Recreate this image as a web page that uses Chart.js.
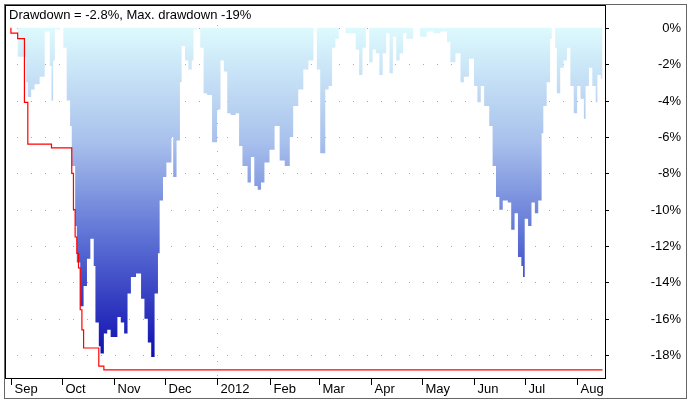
<!DOCTYPE html>
<html><head>
<script src="https://cdn.jsdelivr.net/npm/chart.js@4"></script>
<style>body{margin:0;background:#fff}#wrap{width:691px;height:403px}</style>
</head><body>
<div id="wrap"><canvas id="c"></canvas></div>
<script>
// days since 2011-09-01
let ddDays = [0,4,9,10,12,14,17,20,21,23,24,25,26,29,31,33,35,36,38,39,41,43,45,47,49,50,52,53,55,57,59,61,63,65,67,69,71,74,77,79,81,83,85,87,88,90,92,95,96,98,100,101,103,105,107,108,110,112,114,116,119,122,124,126,128,130,133,135,137,140,142,144,146,148,150,153,156,159,162,165,167,170,173,176,179,181,183,186,188,190,192,194,198,204,206,208,210,212,214,216,218,220,222,224,226,228,230,232,234,238,242,246,250,254,258,260,263,266,268,271,274,276,278,280,283,285,287,289,291,294,296,298,300,302,303,304,306,308,310,312,314,315,317,319,320,322,323,325,327,329,331,333,335,337,339,340,342,344,346,347,349,350];
let ddVals = [0,0,-1.6,-3.0,-3.8,-3.4,-3.1,-2.7,-0.2,-0.2,-2.1,-4,-1.8,-0.1,0,-1.1,-4,-5.4,-7.6,-10.9,-12.9,-15.3,-14.2,-12.7,-11.6,-13.1,-16.2,-17.5,-17.9,-16.8,-16.6,-17,-17,-15.9,-16.2,-16.8,-14.6,-13.7,-13.5,-14.9,-16,-17.3,-18.1,-14.6,-12.4,-9.5,-8.2,-7.4,-6,-8.2,-6.2,-3,-1,-1.8,-2.3,-1.8,-0.1,0,-1.1,-3.6,-3.7,-6.3,-4.5,-1.8,-2.4,-4.7,-4.8,-4.7,-6.5,-7.6,-8.5,-7.1,-8.7,-8.9,-8.5,-7.4,-6.7,-5.4,-7.3,-7.6,-6,-4.3,-3.4,-2.3,-1.8,0,-2.3,-6.9,-3.4,-3.2,-1.1,-0.6,0,-0.3,-1.2,-2.6,-1.1,0,-1.9,-1.2,-1.4,-2.6,-1.4,-0.3,-2.5,-0.5,-1.8,-1.4,-0.3,-0.6,0,-0.5,-0.2,-0.3,-0.2,-0.8,-1.9,-1.4,-3,-2.7,-1.7,-3.2,-4.1,-3.2,-4.3,-5.4,-7.6,-9.3,-10,-9.5,-9.6,-11.1,-10.2,-12.6,-13.1,-13.7,-10.5,-10.9,-9.6,-10.2,-9.5,-5.8,-4.3,-3,-0.6,0,-1.1,-3.6,-2.2,-1.8,-1.1,-3.2,-4.7,-3.2,-3.9,-5,-3.2,-2.2,-3.2,-4.1,-2.6,-2.8];
let maxDays = [0,4,8,10,24,36,37,38,39,40,41,42,43,52,55,84,350];
let maxVals = [0,-0.3,-0.6,-4.1,-6.4,-6.6,-8,-10,-11.5,-12.4,-13.2,-15.5,-16.6,-17.6,-18.6,-18.8,-18.8];
let monthDays = [0,30,61,91,122,153,182,213,243,274,304,335];
let monthLabels = ['Sep','Oct','Nov','Dec','2012','Feb','Mar','Apr','May','Jun','Jul','Aug'];
let yTicks = [0,-2,-4,-6,-8,-10,-12,-14,-16,-18];
let title = 'Drawdown = -2.8%, Max. drawdown -19%';

let ctx = document.querySelector('#c').getContext('2d');
const FONT = '13px "Liberation Sans", Arial, sans-serif';

let extras = {
	id: 'extras',
	beforeDatasetsDraw(chart) {
		let c = chart.ctx, a = chart.chartArea, x = chart.scales.x, y = chart.scales.y;
		c.save();
		c.fillStyle = '#aaa';
		yTicks.forEach(function(v){
			let py = Math.round(y.getPixelForValue(v));
			for (let px = a.left + 12; px < a.right; px += 14) c.fillRect(px, py, 1, 1);
		});
		let vx = Math.round(x.getPixelForValue(monthDays[4]));
		for (let py = a.top + 20; py < a.bottom; py += 14) c.fillRect(vx, py, 1, 1);
		c.restore();
	},
	afterDraw(chart) {
		let c = chart.ctx, a = chart.chartArea, x = chart.scales.x, y = chart.scales.y;
		c.save();
		c.strokeStyle = '#666';
		c.lineWidth = 1;
		c.strokeRect(4.5, 4.5, 682, 394);
		c.strokeStyle = '#000';
		c.strokeRect(a.left + 0.5, a.top + 0.5, a.right - a.left, a.bottom - a.top);
		c.font = FONT;
		c.fillStyle = '#000';
		c.textBaseline = 'middle';
		c.fillText(title, a.left + 4, a.top + 10);
		monthDays.forEach(function(d, i){
			let px = Math.round(x.getPixelForValue(d)) + 0.5;
			c.beginPath(); c.moveTo(px, a.bottom); c.lineTo(px, a.bottom + 7); c.stroke();
			c.fillText(monthLabels[i], px + 3, a.bottom + 11);
		});
		c.textAlign = 'right';
		yTicks.forEach(function(v){
			let py = Math.round(y.getPixelForValue(v)) + 0.5;
			c.beginPath(); c.moveTo(a.right, py); c.lineTo(a.right + 4, py); c.stroke();
			c.fillText(v + '%', 681, py);
		});
		c.restore();
	}
};

function fillGrad(context) {
	let chart = context.chart;
	if (!chart.chartArea) return '#8899dd';
	let y = chart.scales.y;
	let g = chart.ctx.createLinearGradient(0, y.getPixelForValue(0), 0, y.getPixelForValue(-18));
	g.addColorStop(0, '#ddfafd');
	g.addColorStop(0.35, '#a8c0ec');
	g.addColorStop(0.65, '#5b6fd4');
	g.addColorStop(1, '#1010b0');
	return g;
}

new Chart(ctx, {
	type: 'line',
	data: {
		datasets: [
			{
				label: 'Max drawdown',
				data: maxDays.map(function(d, i){ return {x: d, y: maxVals[i]}; }),
				borderColor: '#ff0000', borderWidth: 1.2, stepped: 'after', pointRadius: 0, fill: false
			},
			{
				label: 'Drawdown',
				data: ddDays.map(function(d, i){ return {x: d, y: ddVals[i]}; }),
				borderWidth: 0, borderColor: 'rgba(0,0,0,0)', stepped: 'after', pointRadius: 0,
				fill: 'origin', backgroundColor: fillGrad
			}
		]
	},
	options: {
		responsive: true, maintainAspectRatio: false, animation: false,
		layout: {padding: {left: 5, top: 5, right: 4, bottom: 0}},
		plugins: {legend: {display: false}, tooltip: {enabled: false}},
		scales: {
			x: {
				type: 'linear', min: -3.5, max: 351.5,
				grid: {display: false}, border: {display: false},
				ticks: {display: false},
				afterFit: function(s){ s.height = 25; }
			},
			y: {
				position: 'right', min: -19.25, max: 1.25,
				grid: {display: false}, border: {display: false},
				ticks: {display: false},
				afterFit: function(s){ s.width = 82; }
			}
		}
	},
	plugins: [extras]
});
</script>
</body></html>
